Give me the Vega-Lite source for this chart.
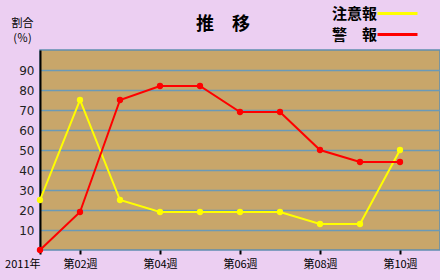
{
  "$schema": "https://vega.github.io/schema/vega-lite/v6.json",
  "width": 400,
  "height": 200,
  "autosize": {"type": "none"},
  "padding": {"left": 40, "top": 50, "right": 0, "bottom": 30},
  "background": "#ECCFF2",
  "title": {
    "text": "推　移",
    "font": "Noto Sans CJK JP",
    "fontSize": 18,
    "fontWeight": "bold",
    "color": "#000000",
    "anchor": "middle",
    "frame": "group",
    "dx": -17,
    "offset": 0,
    "dy": 28
  },
  "config": {
    "font": "Noto Sans CJK JP",
    "view": {"fill": "#C8A66A", "stroke": "#5F8FB0", "strokeWidth": 1.5}
  },
  "data": {
    "values": [
      {"week": 1, "series": "注意報", "value": 25},
      {"week": 2, "series": "注意報", "value": 75},
      {"week": 3, "series": "注意報", "value": 25},
      {"week": 4, "series": "注意報", "value": 19},
      {"week": 5, "series": "注意報", "value": 19},
      {"week": 6, "series": "注意報", "value": 19},
      {"week": 7, "series": "注意報", "value": 19},
      {"week": 8, "series": "注意報", "value": 13},
      {"week": 9, "series": "注意報", "value": 13},
      {"week": 10, "series": "注意報", "value": 50},
      {"week": 1, "series": "警　報", "value": 0},
      {"week": 2, "series": "警　報", "value": 19},
      {"week": 3, "series": "警　報", "value": 75},
      {"week": 4, "series": "警　報", "value": 82},
      {"week": 5, "series": "警　報", "value": 82},
      {"week": 6, "series": "警　報", "value": 69},
      {"week": 7, "series": "警　報", "value": 69},
      {"week": 8, "series": "警　報", "value": 50},
      {"week": 9, "series": "警　報", "value": 44},
      {"week": 10, "series": "警　報", "value": 44}
    ]
  },
  "mark": {"type": "line", "strokeWidth": 2, "clip": false, "point": {"size": 40, "filled": true}},
  "encoding": {
    "x": {
      "field": "week",
      "type": "quantitative",
      "scale": {"domain": [1, 11], "nice": false, "zero": false},
      "axis": {
        "title": null,
        "values": [1, 2, 4, 6, 8, 10],
        "labelExpr": "datum.value == 1 ? '2011年' : '第' + (datum.value < 10 ? '0' : '') + datum.value + '週'",
        "labelAlign": {"condition": {"test": "datum.value == 1", "value": "right"}, "value": "center"},
        "labelFontSize": 11,
        "labelColor": "#000000",
        "labelPadding": 4,
        "labelFont": "Noto Sans CJK JP",
        "domain": false,
        "grid": false,
        "tickColor": "#000000",
        "tickWidth": 2,
        "tickSize": 4
      }
    },
    "y": {
      "field": "value",
      "type": "quantitative",
      "scale": {"domain": [0, 100], "nice": false},
      "axis": {
        "title": ["割合", "(％)"],
        "titleAngle": 0,
        "titleX": -18,
        "titleY": -27,
        "titleAlign": "center",
        "titleBaseline": "middle",
        "titleFontSize": 11,
        "titleFontWeight": "normal",
        "titleLineHeight": 15,
        "titleColor": "#000000",
        "titleFont": "Noto Sans CJK JP",
        "values": [10, 20, 30, 40, 50, 60, 70, 80, 90],
        "labelFontSize": 12,
        "labelColor": "#222222",
        "labelPadding": 6,
        "labelFont": "DejaVu Sans",
        "ticks": false,
        "domainColor": "#000000",
        "domainWidth": 2,
        "gridColor": "#6A9AB8",
        "gridWidth": 1.5,
        "gridOpacity": 1
      }
    },
    "color": {
      "field": "series",
      "type": "nominal",
      "scale": {"domain": ["注意報", "警　報"], "range": ["#FFFF00", "#FF0000"]},
      "legend": {
        "title": null,
        "orient": "none",
        "legendX": 350,
        "legendY": -44,
        "symbolType": "M-4,0H4",
        "symbolSize": 100,
        "symbolStrokeWidth": 3,
        "labelFontSize": 15,
        "labelFontWeight": "bold",
        "labelColor": "#000000",
        "labelFont": "Noto Sans CJK JP",
        "labelAlign": "right",
        "labelOffset": -28,
        "rowPadding": 5
      }
    }
  }
}
